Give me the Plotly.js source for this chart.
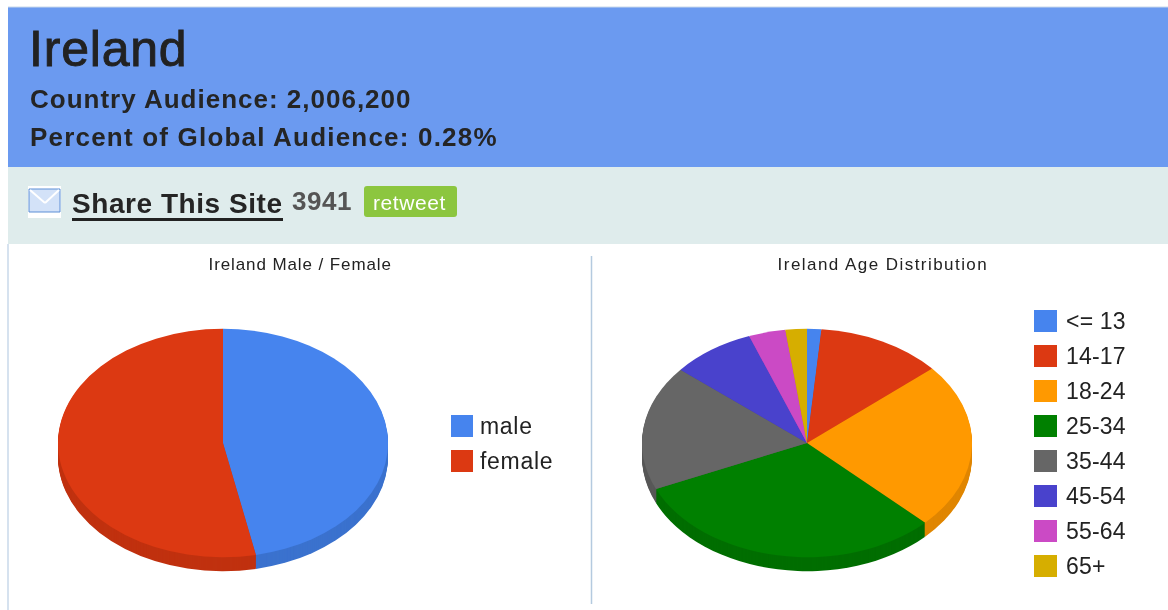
<!DOCTYPE html>
<html>
<head>
<meta charset="utf-8">
<script src="https://cdn.plot.ly/plotly-3.0.1.min.js"></script>
<style>
html,body{margin:0;padding:0;background:#fff;overflow:hidden}
#chart{width:1168px;height:610px;filter:blur(0.45px)}
</style>
</head>
<body>
<div id="chart"></div>
<script>
const countryName = 'Ireland';
const audienceLine = 'Country Audience: 2,006,200';
const percentLine = 'Percent of Global Audience: 0.28%';
const shareLabel = 'Share This Site';
const shareCount = '3941';
const retweetLabel = 'retweet';

const genderTitle = 'Ireland Male / Female';
const genderLabels = ['male', 'female'];
const genderValues = [46.8, 53.2];
const genderColors = ['#4684EE', '#DC3912'];
const genderDepth = ['#3B72CE', '#C0310F'];

const ageTitle = 'Ireland Age Distribution';
const ageLabels = ['<= 13', '14-17', '18-24', '25-34', '35-44', '45-54', '55-64', '65+'];
const ageValues = [1.4, 12.3, 23.6, 31.1, 17.7, 8.2, 3.6, 2.1];
const ageColors = ['#4684EE', '#DC3912', '#FF9900', '#008000', '#666666', '#4942CC', '#CB4AC5', '#D6AE00'];
const ageDepth = ['#3B72CE', '#C0310F', '#E08600', '#006E00', '#585858', '#3E38B0', '#AF3FAA', '#B89600'];

const W = 1168, H = 610;
const px = x => x / W, py = y => 1 - y / H;
const R = 165, CY = 443, SQUASH = 0.692;
const depthOffsets = [14, 13, 12, 11, 10, 9, 8, 7, 6, 5, 4, 3, 2, 1];

function pie(labels, values, colors, cx, name) {
  return {
    type: 'pie', name, labels, values, sort: false, direction: 'clockwise', rotation: 0,
    textinfo: 'none', showlegend: false, automargin: false,
    marker: {colors, line: {width: 0}},
    domain: {x: [px(cx - R), px(cx + R)], y: [py(CY + R), py(CY - R)]}
  };
}
const traces = [], offsets = [];
depthOffsets.forEach(o => {
  traces.push(pie(genderLabels, genderValues, genderDepth, 223, 'gender depth')); offsets.push(o);
  traces.push(pie(ageLabels, ageValues, ageDepth, 807, 'age depth')); offsets.push(o);
});
traces.push(pie(genderLabels, genderValues, genderColors, 223, 'gender')); offsets.push(0);
traces.push(pie(ageLabels, ageValues, ageColors, 807, 'age')); offsets.push(0);

const rect = (x0, y0, x1, y1, fill, extra) => Object.assign({
  type: 'rect', xref: 'paper', yref: 'paper', layer: 'below',
  x0: px(x0), x1: px(x1), y0: py(y1), y1: py(y0), fillcolor: fill, line: {width: 0}
}, extra || {});
const line = (x0, y0, x1, y1, color, width) => ({
  type: 'line', xref: 'paper', yref: 'paper', layer: 'below',
  x0: px(x0), x1: px(x1), y0: py(y0), y1: py(y1), line: {color, width}
});
const spacing = [];
const text = (t, x, y, size, color, opts, ls) => {
  spacing.push(ls || 0);
  return Object.assign({
    text: t, xref: 'paper', yref: 'paper', x: px(x), y: py(y), showarrow: false,
    xanchor: 'left', yanchor: 'middle', borderpad: 0, borderwidth: 0,
    font: {family: '"Liberation Sans", Arial, sans-serif', size, color}
  }, opts || {});
};

const shapes = [
  rect(8, 7, W, 167, '#6B9AF0'),
  rect(8, 167, W, 244, '#DFECEC'),
  line(8, 244, 8, H, '#C9D8EA', 1.5),
  line(8, 7, W, 7, '#C9D8EA', 1),
  line(591.5, 256, 591.5, 604, '#B4CADF', 1.5),
  rect(28, 186, 61, 218, '#FFFFFF'),
  rect(29, 189, 60, 212, '#D3E2F8', {line: {color: '#5C8FD6', width: 1}}),
  line(30, 190, 45, 203, '#FFFFFF', 2),
  line(59, 190, 45, 203, '#FFFFFF', 2),
  line(72, 219.5, 283, 219.5, '#222222', 3),
  {type: 'path', xref: 'paper', yref: 'paper', layer: 'below', fillcolor: '#8CC63F', line: {width: 0},
   path: `M${px(367)},${py(186)} L${px(454)},${py(186)} Q${px(457)},${py(186)} ${px(457)},${py(189)} L${px(457)},${py(214)} Q${px(457)},${py(217)} ${px(454)},${py(217)} L${px(367)},${py(217)} Q${px(364)},${py(217)} ${px(364)},${py(214)} L${px(364)},${py(189)} Q${px(364)},${py(186)} ${px(367)},${py(186)} Z`}
];
const annotations = [
  text(countryName, 29, 49, 50, '#222222', null, 0.8),
  text('<b>' + audienceLine + '</b>', 30, 99, 26, '#252525', null, 1.0),
  text('<b>' + percentLine + '</b>', 30, 137, 26, '#252525', null, 1.2),
  text('<b>' + shareLabel + '</b>', 72, 203, 28, '#252525', null, 0.55),
  text('<b>' + shareCount + '</b>', 292, 201, 26, '#555555', null, 0.5),
  text(retweetLabel, 409, 202, 21, '#FFFFFF', {xanchor: 'center'}, 0.6),
  text(genderTitle, 300, 265, 17, '#222222', {xanchor: 'center'}, 0.9),
  text(ageTitle, 883, 265, 17, '#222222', {xanchor: 'center'}, 1.45)
];
genderLabels.forEach((l, i) => {
  const y = 426 + 35 * i;
  shapes.push(rect(451, y - 11, 473, y + 11, genderColors[i]));
  annotations.push(text(l, 480, y, 23, '#222222', null, 0.7));
});
ageLabels.forEach((l, i) => {
  const y = 321 + 35 * i;
  shapes.push(rect(1034, y - 11, 1057, y + 11, ageColors[i]));
  annotations.push(text(l, 1066, y, 23, '#222222', null, 0.2));
});

Plotly.newPlot('chart', traces, {
  width: W, height: H, margin: {l: 0, r: 0, t: 0, b: 0},
  paper_bgcolor: '#FFFFFF', showlegend: false, shapes, annotations
}, {displayModeBar: false, staticPlot: true}).then(gd => {
  gd.querySelectorAll('.pielayer .trace').forEach((g, i) => {
    g.setAttribute('transform', `translate(0,${CY + offsets[i]}) scale(1,${SQUASH}) translate(0,${-CY})`);
  });
  gd.querySelectorAll('.annotation-text').forEach((el, i) => {
    const before = el.getBBox();
    el.style.letterSpacing = spacing[i] + 'px';
    if (annotations[i].xanchor === 'left') {
      const after = el.getBBox();
      el.setAttribute('transform', `translate(${before.x - after.x},0)`);
    }
    if (i === 0) { el.style.stroke = '#222222'; el.style.strokeWidth = '0.9px'; }
  });
});
</script>
</body>
</html>
